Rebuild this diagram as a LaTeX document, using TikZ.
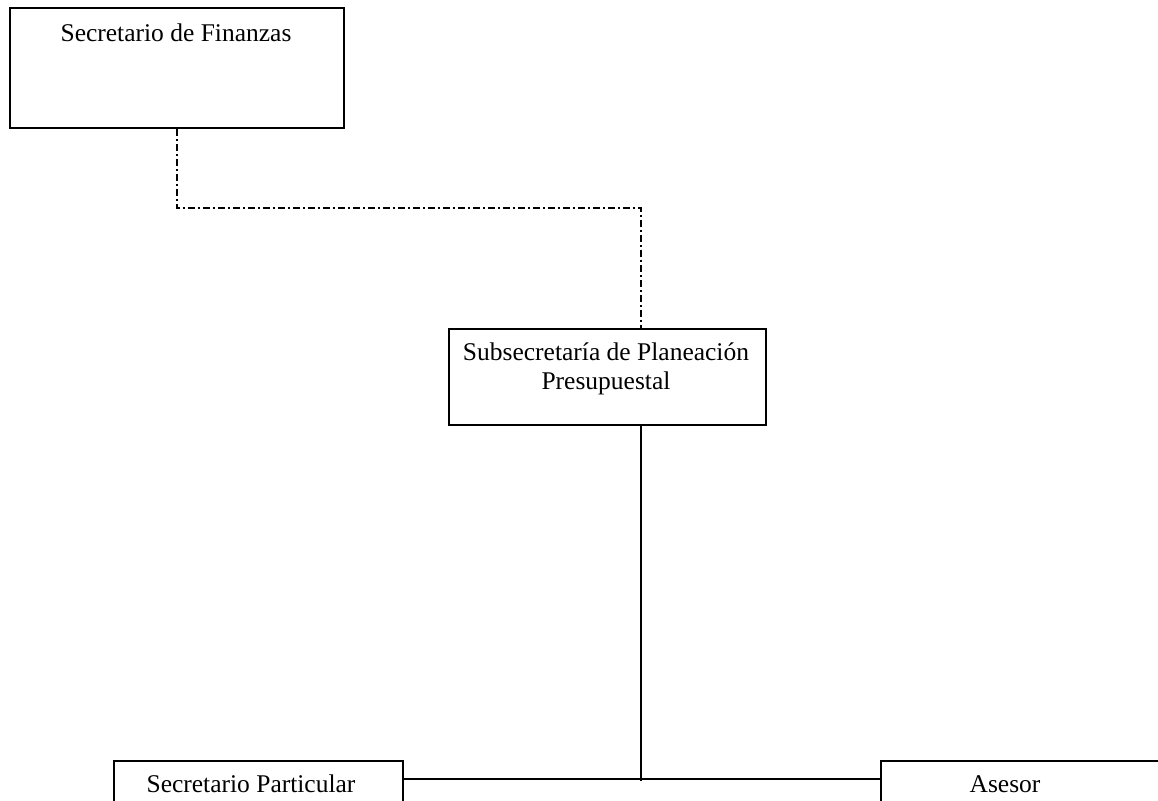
\documentclass[tikz,border=0pt]{standalone}
\usepackage{fontspec}
\setmainfont{Liberation Serif}
\begin{document}
\begin{tikzpicture}[x=1pt,y=-1pt,
  box/.style={draw,line width=1.9pt,inner sep=0pt,anchor=north west},
  lbl/.style={inner sep=0pt,font=\fontsize{25.5}{29}\selectfont,align=center},
  solidline/.style={line width=1.7pt},
  dashdotline/.style={line width=1.8pt,dash pattern=on 7pt off 3pt on 2pt off 3pt}]
  \useasboundingbox (0,0) rectangle (1158,800);
  \clip (0,0) rectangle (1158,800);
  % boxes
  \node[box,minimum width=334pt,minimum height=120pt] (fin) at (9,7) {};
  \node[box,minimum width=317pt,minimum height=96pt] (sub) at (448,328) {};
  \node[box,minimum width=289pt,minimum height=80pt] (par) at (113,760) {};
  \node[box,minimum width=300pt,minimum height=80pt] (ase) at (880,760) {};
  % texts
  \node[lbl] (finT) at (176,33) {Secretario de Finanzas};
  \node[lbl] (subT) at (606,369) {Subsecretaría de Planeación\\Presupuestal};
  \node[lbl] (parT) at (251,784) {Secretario Particular};
  \node[lbl] (aseT) at (1005,784) {Asesor};
  % junction points
  \coordinate (turn) at (641,208);
  \coordinate (hub) at (641,779);
  \coordinate (hubEnd) at (641,781);
  % connectors
  \draw[dashdotline] (fin.south) |- (turn) -- (turn |- sub.north);
  \draw[solidline] (hub |- sub.south) -- (hubEnd);
  \draw[solidline] (hub -| par.east) -- (hub -| ase.west);
\end{tikzpicture}
\end{document}
